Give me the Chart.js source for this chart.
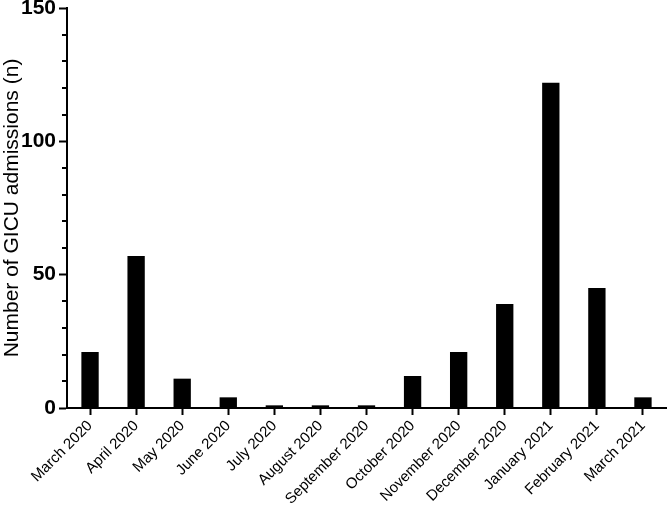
<!DOCTYPE html>
<html>
<head>
<meta charset="utf-8">
<script src="https://cdn.jsdelivr.net/npm/chart.js@4/dist/chart.umd.min.js"></script>
<style>
  html, body { margin: 0; padding: 0; background: #fff; }
  #wrap { width: 669px; height: 511px; position: relative; }
</style>
</head>
<body>
<div id="wrap"><canvas id="chart"></canvas></div>
<script>
const months = ["March 2020", "April 2020", "May 2020", "June 2020", "July 2020", "August 2020",
    "September 2020", "October 2020", "November 2020", "December 2020", "January 2021",
    "February 2021", "March 2021"]
const admissions = [21, 57, 11, 4, 1, 1, 1, 12, 21, 39, 122, 45, 4]
const yMax = 150
const majorStep = 50
const minorStep = 10

const fontFamily = "'Liberation Sans', Arial, Helvetica, sans-serif"

// short minor ticks on the y axis
const minorTicks = {
    id: "minorTicks",
    afterDraw(chart) {
        const y = chart.scales.y
        const c = chart.ctx
        c.save()
        c.strokeStyle = "#000"
        c.lineWidth = 2
        for (let v = 0; v <= yMax; v += minorStep) {
            if (v % majorStep === 0) continue
            const py = Math.round(y.getPixelForValue(v))
            c.beginPath()
            c.moveTo(y.right - 5, py)
            c.lineTo(y.right, py)
            c.stroke()
        }
        c.restore()
    }
}

let ctx = document.getElementById("chart").getContext("2d")
let chart = new Chart(ctx, {
    type: "bar",
    data: {
        labels: months,
        datasets: [
            {
                label: "GICU admissions",
                data: admissions,
                backgroundColor: "#000",
                borderWidth: 0,
                categoryPercentage: 1,
                barPercentage: 0.376
            }
        ]
    },
    options: {
        responsive: true,
        maintainAspectRatio: false,
        animation: false,
        layout: {
            padding: { top: 0, right: 3, left: 0, bottom: 0 }
        },
        scales: {
            x: {
                offset: true,
                grid: {
                    offset: false,
                    drawOnChartArea: false,
                    tickLength: 7,
                    tickWidth: 2,
                    tickColor: "#000"
                },
                border: { color: "#000", width: 2 },
                ticks: {
                    color: "#000",
                    font: { family: fontFamily, size: 15 },
                    minRotation: 45,
                    maxRotation: 45,
                    autoSkip: false,
                    padding: 2
                },
                afterFit: (scale) => { scale.height = 103 }
            },
            y: {
                min: 0,
                max: yMax,
                grid: {
                    drawOnChartArea: false,
                    tickLength: 8,
                    tickWidth: 2,
                    tickColor: (c) => (c.tick && c.tick.value % majorStep === 0) ? "#000" : "rgba(0,0,0,0)"
                },
                border: { color: "#000", width: 2 },
                ticks: {
                    stepSize: minorStep,
                    autoSkip: false,
                    color: "#000",
                    padding: 3,
                    font: { family: fontFamily, size: 21, weight: "bold" },
                    callback: (v) => v % majorStep === 0 ? v : ""
                },
                title: {
                    display: true,
                    text: "Number of GICU admissions (n)",
                    color: "#000",
                    font: { family: fontFamily, size: 21 },
                    padding: { top: 0, bottom: 0 }
                },
                afterFit: (scale) => {
                    scale.width = 67
                    scale.paddingTop = 8
                    scale.paddingBottom = 0
                }
            }
        },
        plugins: {
            legend: { display: false },
            tooltip: { enabled: false }
        }
    },
    plugins: [minorTicks]
})
</script>
</body>
</html>
